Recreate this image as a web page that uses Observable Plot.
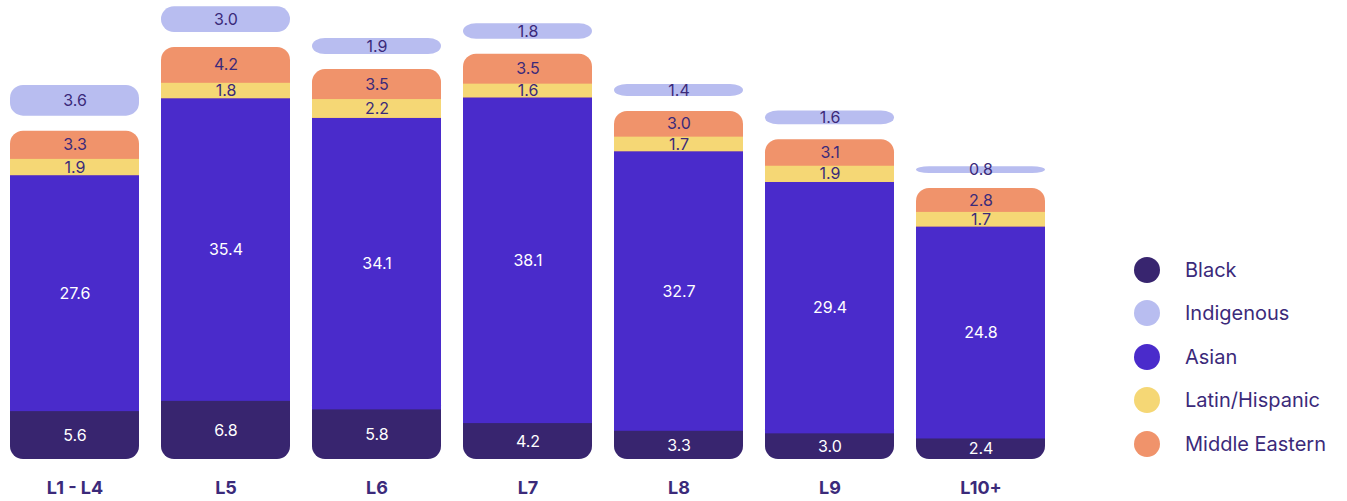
<!DOCTYPE html>
<html>
<head>
<meta charset="utf-8">
<script src="https://cdn.jsdelivr.net/npm/d3@7"></script>
<script src="https://cdn.jsdelivr.net/npm/@observablehq/plot@0.6"></script>
<style>
  body { margin: 0; background: #fff; font-family: Inter, "Noto Sans", sans-serif; }
  #wrap { position: relative; width: 1347px; height: 501px; }
  #legend { position: absolute; left: 1134px; top: 248px; }
  .item { display: flex; align-items: center; height: 43.5px; }
  .sw { width: 26px; height: 26px; border-radius: 50%; margin-right: 25px; }
  .lab { font-size: 20px; color: #3b2a7a; }
</style>
</head>
<body>
<div id="wrap"><div id="chart"></div><div id="legend"></div></div>
<script>
const levels = ["L1 - L4", "L5", "L6", "L7", "L8", "L9", "L10+"];
const black = [5.6, 6.8, 5.8, 4.2, 3.3, 3.0, 2.4];
const asian = [27.6, 35.4, 34.1, 38.1, 32.7, 29.4, 24.8];
const latin = [1.9, 1.8, 2.2, 1.6, 1.7, 1.9, 1.7];
const middleEastern = [3.3, 4.2, 3.5, 3.5, 3.0, 3.1, 2.8];
const indigenous = [3.6, 3.0, 1.9, 1.8, 1.4, 1.6, 0.8];

const seriesNames = ["Black", "Indigenous", "Asian", "Latin/Hispanic", "Middle Eastern"];
const seriesColors = ["#38256f", "#b8bdf0", "#4a2bcb", "#f5d775", "#f0936b"];
const textDark = "#3b2a7a";

const rows = levels.map((level, i) => {
  const b = black[i], a = asian[i], l = latin[i], m = middleEastern[i], ind = indigenous[i];
  const aTop = b + a, lTop = aTop + l, mTop = lTop + m;
  return {level, b, a, l, m, ind, aTop, lTop, mTop, iTop: mTop + ind};
});

const color = Object.fromEntries(seriesNames.map((n, i) => [n, seriesColors[i]]));
const R = 13, GAP = 15, EXT = 2, FS = 16;

const fmt = v => v.toFixed(1);

const plot = Plot.plot({
  width: 1347,
  height: 501,
  marginLeft: 0,
  marginRight: 0,
  marginTop: 0,
  marginBottom: 42,
  style: {fontFamily: "Inter, 'Noto Sans', sans-serif", background: "transparent"},
  x: {domain: levels, range: [-2, 1056], paddingInner: 0.146, paddingOuter: 0.073, label: null},
  y: {domain: [0, 50], range: [459, 459 - 50 * 8.55], axis: null},
  marks: [
    Plot.barY(rows, {x: "level", y1: d => d.aTop - EXT, y2: "mTop", fill: color["Middle Eastern"], rx: R}),
    Plot.barY(rows, {x: "level", y1: 0, y2: d => d.b + EXT, fill: color["Black"], rx: R}),
    Plot.barY(rows, {x: "level", y1: "b", y2: "aTop", fill: color["Asian"]}),
    Plot.barY(rows, {x: "level", y1: "aTop", y2: "lTop", fill: color["Latin/Hispanic"]}),
    Plot.barY(rows, {x: "level", y1: "mTop", y2: "iTop", dy: -GAP, fill: color["Indigenous"], rx: R}),
    Plot.text(rows, {x: "level", y: d => d.b / 2, text: d => fmt(d.b), fill: "white", fontSize: FS}),
    Plot.text(rows, {x: "level", y: d => d.b + d.a / 2, text: d => fmt(d.a), fill: "white", fontSize: FS}),
    Plot.text(rows, {x: "level", y: d => d.aTop + d.l / 2, text: d => fmt(d.l), fill: textDark, fontSize: FS}),
    Plot.text(rows, {x: "level", y: d => d.lTop + d.m / 2, text: d => fmt(d.m), fill: textDark, fontSize: FS}),
    Plot.text(rows, {x: "level", y: d => d.mTop + d.ind / 2, dy: -GAP, text: d => fmt(d.ind), fill: textDark, fontSize: FS}),
    Plot.axisX({tickSize: 0, tickPadding: 22, fontSize: 18, fontWeight: 700, fill: textDark, label: null})
  ]
});
document.getElementById("chart").appendChild(plot);

const legend = document.getElementById("legend");
seriesNames.forEach((n, i) => {
  const item = document.createElement("div");
  item.className = "item";
  item.innerHTML = `<div class="sw" style="background:${seriesColors[i]}"></div><div class="lab">${n}</div>`;
  legend.appendChild(item);
});
</script>
</body>
</html>
